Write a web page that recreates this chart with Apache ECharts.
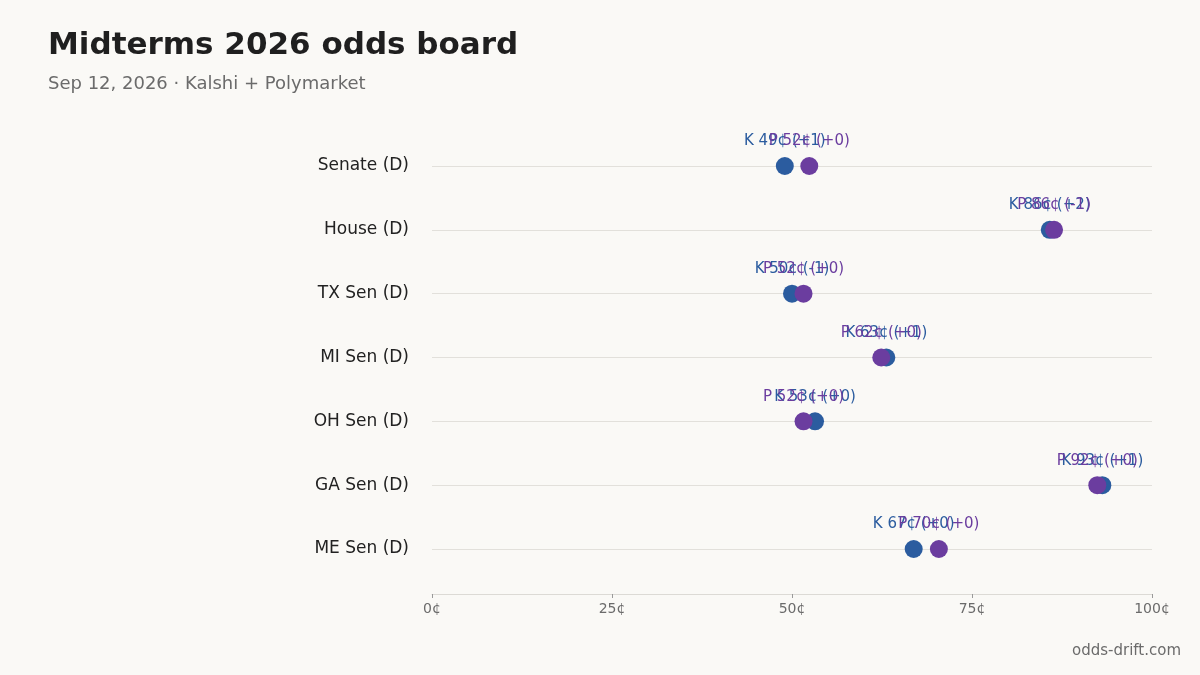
<!DOCTYPE html>
<html>
<head>
<meta charset="utf-8">
<script src="https://cdn.jsdelivr.net/npm/echarts@6/dist/echarts.min.js"></script>
<style>
  html, body { margin: 0; padding: 0; background: #faf9f6; }
  #chart { width: 1200px; height: 675px; }
</style>
</head>
<body>
<div id="chart"></div>
<script>
var races = ['Senate (D)', 'House (D)', 'TX Sen (D)', 'MI Sen (D)', 'OH Sen (D)', 'GA Sen (D)', 'ME Sen (D)'];
var kalshi = [49.0, 85.8, 50.0, 63.1, 53.2, 93.1, 66.9];
var poly = [52.4, 86.4, 51.6, 62.4, 51.6, 92.4, 70.4];
var kalshiDelta = ['+1', '+2', '-1', '+1', '+0', '+1', '+0'];
var polyDelta = ['+0', '-1', '+0', '+0', '+0', '+0', '+0'];
var xTicks = [0, 25, 50, 75, 100];

var font = "'DejaVu Sans', sans-serif";
var chart = echarts.init(document.getElementById('chart'));

function points(vals) {
  return vals.map(function (v, i) { return [v, i]; });
}

function makeSeries(name, vals, deltas, prefix, color) {
  return {
    name: name,
    type: 'scatter',
    symbolSize: 18,
    data: points(vals),
    itemStyle: { color: color, opacity: 1 },
    label: {
      show: true,
      position: 'top',
      distance: 8,
      color: color,
      fontFamily: font,
      fontSize: 15,
      formatter: function (p) {
        return prefix + ' ' + Math.round(vals[p.dataIndex]) + '¢ (' + deltas[p.dataIndex] + ')';
      }
    }
  };
}

var option = {
  backgroundColor: '#faf9f6',
  animation: false,
  title: {
    text: 'Midterms 2026 odds board',
    subtext: 'Sep 12, 2026 · Kalshi + Polymarket',
    left: 43,
    top: 25,
    itemGap: 14,
    textStyle: { fontFamily: font, fontSize: 31, fontWeight: 'bold', color: '#1f1f1f' },
    subtextStyle: { fontFamily: font, fontSize: 18, color: '#6b6b6b' }
  },
  grid: { left: 432, right: 48, top: 166, bottom: 126, containLabel: false },
  xAxis: {
    type: 'value',
    min: 0,
    max: 100,
    interval: 25,
    offset: 45,
    axisLine: { show: true, lineStyle: { color: '#dcdad5' } },
    axisTick: { show: true, length: 4, lineStyle: { color: '#999' } },
    splitLine: { show: false },
    axisLabel: {
      fontFamily: font, fontSize: 14, color: '#6b6b6b', margin: 8,
      formatter: function (v) { return xTicks.indexOf(v) >= 0 ? v + '¢' : ''; }
    }
  },
  yAxis: {
    type: 'category',
    data: races,
    inverse: true,
    boundaryGap: false,
    axisLine: { show: false },
    axisTick: { show: false },
    splitLine: { show: true, lineStyle: { color: '#e2e0db', width: 1 } },
    axisLabel: { fontFamily: font, fontSize: 17, color: '#222', margin: 23 }
  },
  series: [
    makeSeries('Kalshi', kalshi, kalshiDelta, 'K', '#2b5c9f'),
    makeSeries('Polymarket', poly, polyDelta, 'P', '#6b3d9f')
  ],
  graphic: [{
    type: 'text',
    right: 19,
    bottom: 16,
    style: { text: 'odds-drift.com', fontFamily: font, fontSize: 15, fill: '#6b6b6b' }
  }]
};

chart.setOption(option);
</script>
</body>
</html>
